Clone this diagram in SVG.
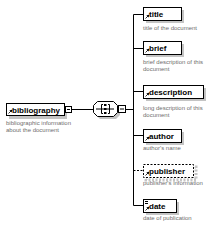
<svg xmlns="http://www.w3.org/2000/svg" width="220" height="230" viewBox="0 0 220 230">
<defs>
<style>
.box{fill:#fff;stroke:#000;stroke-width:1}
.dash{fill:#fff;stroke:#000;stroke-width:1;stroke-dasharray:2,1.5}
.sh{fill:#c4c4c4}
.name{font-family:"Liberation Sans",Arial,sans-serif;font-size:8px;font-weight:bold;fill:#000}
.desc{font-family:"Liberation Sans",Arial,sans-serif;font-size:6px;fill:#6e6e6e}
.ln{stroke:#000;stroke-width:1;fill:none}
.ic{stroke:#000;stroke-width:0.8;fill:none}
</style>
<marker id="ah" markerWidth="3" markerHeight="3" refX="1.5" refY="1.5" orient="auto" markerUnits="userSpaceOnUse"><path d="M0,0 L3,1.5 L0,3 Z" fill="#000"/></marker>
</defs>
<g id="connectors">
<path class="ln" d="M71.5,109.5 H93"/>
<path class="ln" d="M125.5,109.5 H133.5"/>
<path class="ln" d="M133.5,14.5 V205.5"/>
<path class="ln" d="M133.5,14.5 H143"/>
<path class="ln" d="M133.5,48.5 H143"/>
<path class="ln" d="M133.5,91.5 H143"/>
<path class="ln" d="M133.5,135.5 H143"/>
<path class="ln" d="M133.5,170.5 H143" stroke-dasharray="2,1.5"/>
<path class="ln" d="M133.5,205.5 H143"/>
</g>
<g id="bibliography">
<rect class="sh" x="9" y="107" width="58" height="12"/>
<rect class="box" x="6.5" y="103.5" width="58" height="12"/>
<path class="ic" d="M8.5,113.5 L11.5,110.5" marker-end="url(#ah)"/>
<text class="name" x="12" y="112.5">bibliography</text>
<rect class="box" x="65.5" y="106.5" width="6" height="6"/>
<path class="ln" d="M67,109.5 H70"/>
<text class="desc" x="6" y="125">bibliographic information</text>
<text class="desc" x="6" y="132">about the document</text>
</g>
<g id="sequence">
<path class="sh" d="M100,104 H116 L120,108 V115 L116,119 H100 L96,115 V108 Z"/>
<path class="box" d="M97.5,101.5 H113.5 L117.5,105.5 V112.5 L113.5,116.5 H97.5 L93.5,112.5 V105.5 Z"/>
<path class="ln" d="M96,109 H114"/>
<path class="ln" d="M101.5,104.5 V113.5 M101.5,104.5 H103 M101.5,113.5 H103"/>
<rect x="104" y="104" width="2.5" height="2" fill="#000"/>
<rect x="104" y="108" width="2.5" height="2" fill="#000"/>
<rect x="104" y="112" width="2.5" height="2" fill="#000"/>
<path class="ln" d="M109.5,104.5 V113.5 M109.5,104.5 H108 M109.5,113.5 H108"/>
<rect class="box" x="118.5" y="105.5" width="7" height="7"/>
<path class="ln" d="M120,109 H124"/>
</g>
<g id="title">
<rect class="sh" x="146" y="10" width="38" height="13"/>
<rect class="box" x="143.5" y="7.5" width="38" height="13"/>
<path class="ic" d="M145.5,18.5 L148.5,15.5" marker-end="url(#ah)"/>
<text class="name" x="149" y="16.5">title</text>
<text class="desc" x="143" y="30">title of the document</text>
</g>
<g id="brief">
<rect class="sh" x="146" y="44" width="38" height="13"/>
<rect class="box" x="143.5" y="41.5" width="38" height="13"/>
<path class="ic" d="M145.5,52.5 L148.5,49.5" marker-end="url(#ah)"/>
<text class="name" x="149" y="50.5">brief</text>
<text class="desc" x="143" y="64">brief description of this</text>
<text class="desc" x="143" y="71">document</text>
</g>
<g id="description">
<rect class="sh" x="146" y="88" width="60" height="13"/>
<rect class="box" x="143.5" y="85.5" width="60" height="13"/>
<path class="ic" d="M145.5,96.5 L148.5,93.5" marker-end="url(#ah)"/>
<text class="name" x="149" y="94.5">description</text>
<text class="desc" x="143" y="110">long description of this</text>
<text class="desc" x="143" y="117">document</text>
</g>
<g id="author">
<rect class="sh" x="146" y="132" width="38" height="13"/>
<rect class="box" x="143.5" y="129.5" width="38" height="13"/>
<path class="ic" d="M145.5,140.5 L148.5,137.5" marker-end="url(#ah)"/>
<text class="name" x="149" y="138.5">author</text>
<text class="desc" x="143" y="150">author's name</text>
</g>
<g id="publisher">
<rect x="146" y="167" width="50" height="13" fill="none" stroke="#c4c4c4" stroke-width="3" stroke-dasharray="2,1.5"/>
<rect class="dash" x="143.5" y="164.5" width="50" height="13"/>
<path class="ic" d="M145.5,175.5 L148.5,172.5" marker-end="url(#ah)"/>
<text class="name" x="149" y="173.5">publisher</text>
<text class="desc" x="143" y="185">publisher's information</text>
</g>
<g id="date">
<rect class="sh" x="146" y="202" width="33" height="13"/>
<rect class="box" x="143.5" y="199.5" width="33" height="13"/>
<path class="ln" d="M145,201.5 H148 M145,203.5 H148" stroke-width="0.7"/>
<path class="ic" d="M145.5,210.5 L148.5,207.5" marker-end="url(#ah)"/>
<text class="name" x="149" y="208.5">date</text>
<text class="desc" x="143" y="220">date of publication</text>
</g>
</svg>
